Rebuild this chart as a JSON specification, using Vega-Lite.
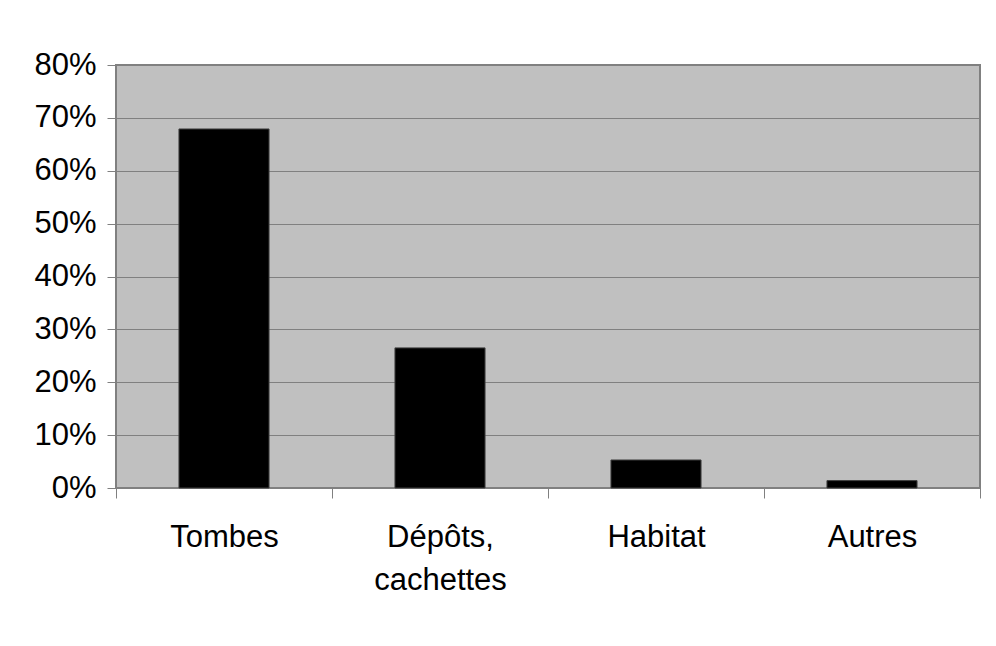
{
  "$schema": "https://vega.github.io/schema/vega-lite/v6.json",
  "autosize": {"type": "none"},
  "width": 864,
  "height": 423,
  "padding": {"left": 116, "top": 65, "right": 16, "bottom": 158},
  "background": "white",
  "data": {"values": [
    {"categorie": "Tombes", "part": 0.679},
    {"categorie": "Dépôts, cachettes", "part": 0.265},
    {"categorie": "Habitat", "part": 0.053},
    {"categorie": "Autres", "part": 0.014}
  ]},
  "mark": {"type": "bar", "color": "black", "stroke": "#404040", "strokeWidth": 1, "width": {"band": 0.417}},
  "encoding": {
    "x": {
      "field": "categorie", "type": "nominal", "sort": null, "title": null,
      "scale": {"paddingInner": 0, "paddingOuter": 0},
      "axis": {
        "labelAngle": 0, "tickBand": "extent", "grid": false,
        "tickSize": 10, "tickColor": "#808080", "domainColor": "#808080",
        "labelFont": "Liberation Sans, Arial", "labelFontSize": 31,
        "labelColor": "black", "labelPadding": 24, "labelLineHeight": 43,
        "labelExpr": "datum.value == 'Dépôts, cachettes' ? ['Dépôts,', 'cachettes'] : datum.value"
      }
    },
    "y": {
      "field": "part", "type": "quantitative", "title": null,
      "scale": {"domain": [0, 0.8], "nice": false},
      "axis": {
        "format": ".0%", "values": [0, 0.1, 0.2, 0.3, 0.4, 0.5, 0.6, 0.7, 0.8],
        "grid": true, "gridColor": "#808080", "gridWidth": 1, "gridOpacity": 1,
        "tickSize": 9, "tickColor": "#808080", "domainColor": "#808080",
        "labelFont": "Liberation Sans, Arial", "labelFontSize": 31,
        "labelColor": "black", "labelPadding": 11
      }
    }
  },
  "config": {
    "view": {"fill": "#c0c0c0", "stroke": "#808080", "strokeWidth": 2}
  }
}
